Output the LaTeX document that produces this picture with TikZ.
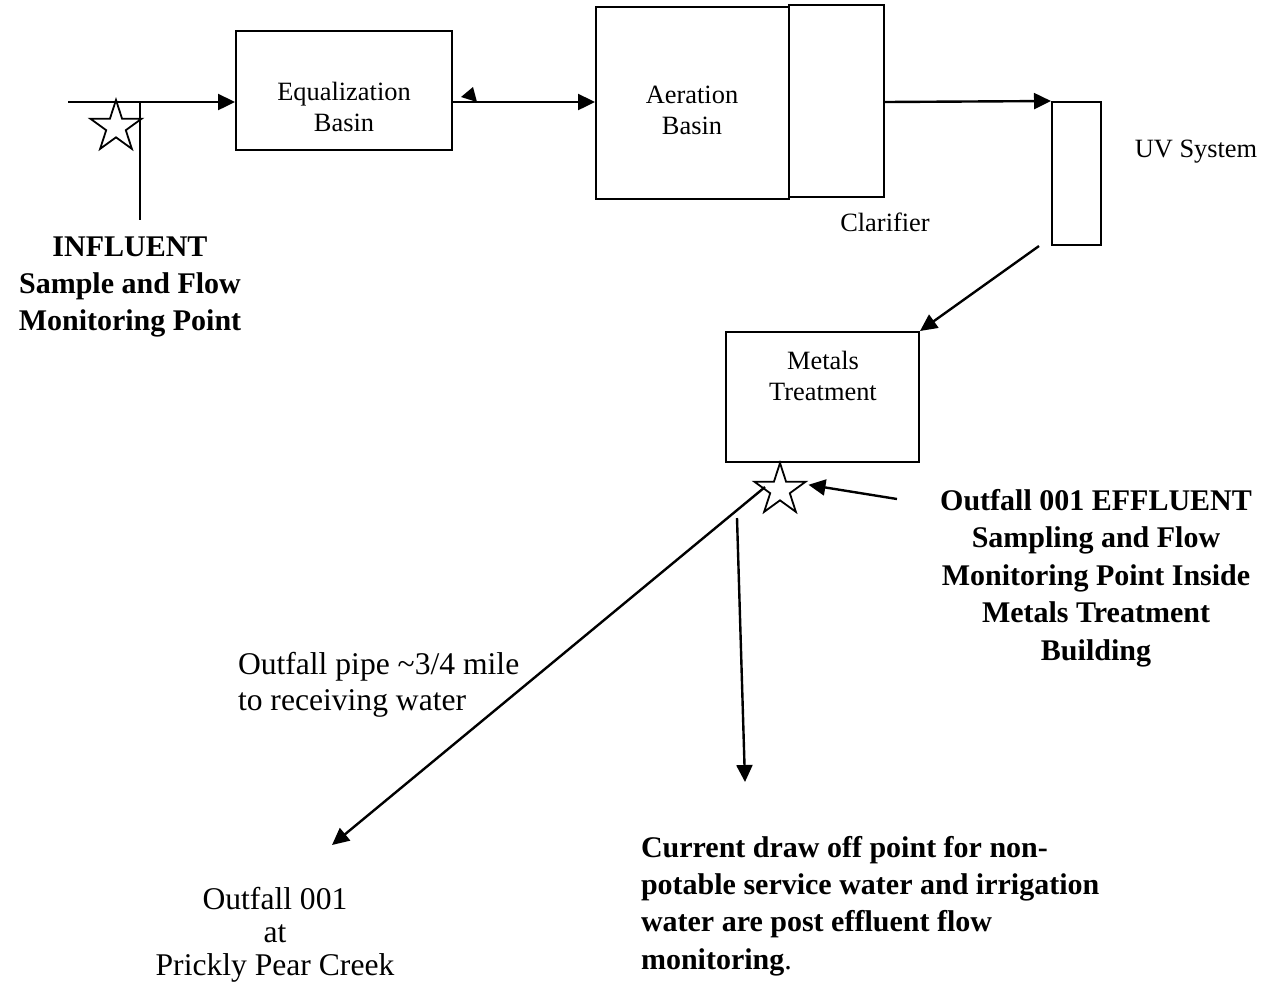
\documentclass[tikz,border=0pt]{standalone}
\usepackage{fontspec}
\setmainfont{Liberation Serif}
\usetikzlibrary{positioning,calc,arrows.meta,shapes.geometric}

\begin{document}
\begin{tikzpicture}[x=0.5pt,y=-0.5pt,line width=1pt,
    unit/.style={rectangle,draw,line width=1pt,inner sep=0pt},
    lbl/.style={font=\fontsize{13.2}{15.3}\selectfont,align=center,inner sep=0pt},
    note/.style={font=\fontsize{15.8}{18}\selectfont,inner sep=0pt},
    bnote/.style={font=\fontsize{15}{18.7}\selectfont\bfseries,inner sep=0pt},
    sampstar/.style={star,star points=5,star point ratio=2.618,draw,line width=0.9pt,inner sep=0pt,minimum size=27pt},
    flow/.style={line width=1.2pt,-{Triangle[length=8.5pt,width=8pt]}}]

\useasboundingbox (0,0) rectangle (1268,993);

% process units
\node[unit,minimum width=108pt,minimum height=59.5pt] (eq) at (344,90.5) {};
\node[unit,minimum width=96.5pt,minimum height=96pt] (aer) at (692.5,103) {};
\node[unit,minimum width=47.5pt,minimum height=96pt] (clar) at (836.5,101) {};
\node[unit,minimum width=24.5pt,minimum height=71.5pt] (uv) at (1076.5,173.5) {};
\node[unit,minimum width=96.5pt,minimum height=65pt] (met) at (822.5,397) {};

\node[lbl] (eqtxt) at (344,107) {Equalization\\Basin};
\node[lbl] (aertxt) at (692,110.5) {Aeration\\Basin};
\node[lbl] (mettxt) at (823,376) {Metals\\Treatment};
\node[lbl,below=7pt of clar.south east] (clartxt) {Clarifier};
\node[lbl] (uvtxt) at (1196,152) {UV System};

% sampling points
\node[sampstar] (istar) at (116,127) {};
\node[sampstar] (estar) at (780,490) {};

\coordinate (inf) at (68,102);
\coordinate (infend) at (140,220);
\coordinate (effpt) at (897,499);
\coordinate (pipetop) at (765,487);
\coordinate (pipeend) at (332,845);
\coordinate (drawtop) at (737,518);
\coordinate (drawend) at (745,782);

% flow lines
\draw[flow] (inf) -- (inf -| eq.west);
\draw (inf -| infend) -- (infend);
\draw[flow] (eq.east |- inf) -- (aer.west |- inf);
\fill ($(eq.east)+(8,6.5)$) -- ($(eq.east)+(20,-3.5)$) -- ($(eq.east)+(24,11.5)$) -- cycle;
\draw[flow] (clar.east |- inf) -- (uv.north west);
\draw[flow] ($(uv.south west)+(-12,0)$) -- (met.north east);
\draw[flow] (effpt) -- ($(estar.outer point 5)+(0,4)$);
\draw[flow] (pipetop) -- (pipeend);
\draw[flow] (drawtop) -- (drawend);

% notes
\node[bnote,align=center] (inftxt) at (130,287) {INFLUENT\\Sample and Flow\\Monitoring Point};
\node[bnote,align=center] (efftxt) at (1096,578) {Outfall 001 EFFLUENT\\Sampling and Flow\\Monitoring Point Inside\\Metals Treatment\\Building};
\node[bnote,align=left,anchor=west] (drawtxt) at (640,906) {Current draw off point for non-\\potable service water and irrigation\\water are post effluent flow\\monitoring{\mdseries .}};
\node[note,align=left,anchor=west] (pipetxt) at (237,685) {Outfall pipe \textasciitilde 3/4 mile\\to receiving water};
\node[note,align=center,font=\fontsize{15.8}{16.5}\selectfont] (outtxt) at (275,935) {Outfall 001\\at\\Prickly Pear Creek};

\end{tikzpicture}
\end{document}
